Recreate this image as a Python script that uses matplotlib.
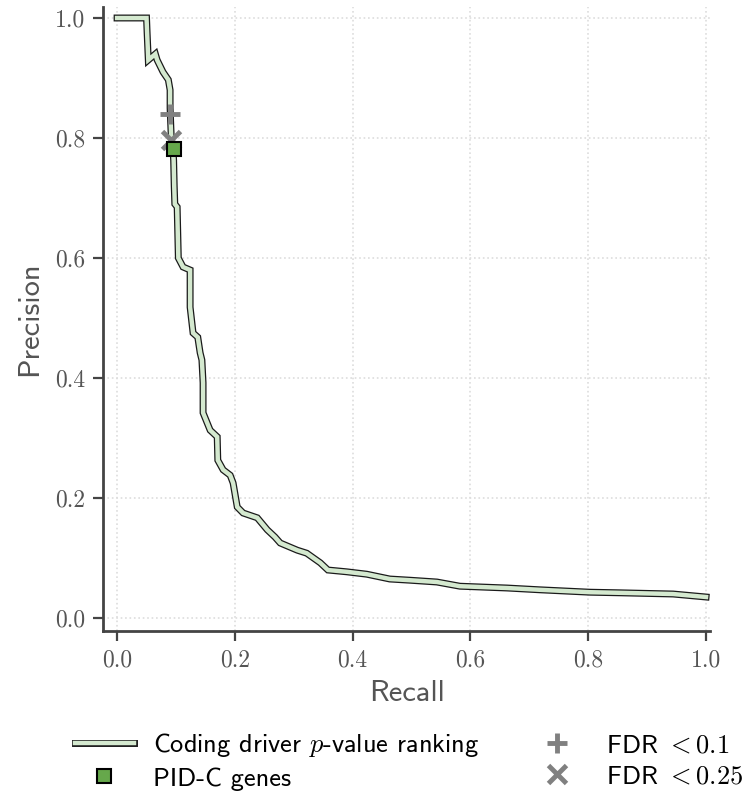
import matplotlib
matplotlib.use("Agg")
import matplotlib.pyplot as plt
import matplotlib.patheffects as pe

plt.rcParams['mathtext.fontset'] = 'cm'
plt.rcParams['axes.formatter.use_mathtext'] = True
plt.rcParams['axes.unicode_minus'] = False

# precision-recall curve of the coding driver ranking
recall = [0.0, 0.050, 0.051, 0.053, 0.065, 0.068, 0.078, 0.087, 0.090, 0.090,
          0.092, 0.095, 0.096, 0.097, 0.098, 0.102, 0.104, 0.112, 0.124, 0.124,
          0.129, 0.137, 0.141, 0.144, 0.146, 0.146, 0.158, 0.170, 0.171, 0.180,
          0.192, 0.197, 0.204, 0.214, 0.238, 0.255, 0.268, 0.277, 0.306, 0.322,
          0.345, 0.358, 0.390, 0.424, 0.463, 0.497, 0.543, 0.582, 0.662, 0.718,
          0.803, 0.854, 0.944, 1.0]
precision = [1.0, 1.0, 0.975, 0.93, 0.94, 0.93, 0.91, 0.897, 0.88, 0.85,
             0.80, 0.78, 0.763, 0.72, 0.69, 0.685, 0.60, 0.585, 0.58, 0.518,
             0.475, 0.468, 0.442, 0.43, 0.392, 0.342, 0.313, 0.302, 0.263, 0.247,
             0.238, 0.225, 0.185, 0.175, 0.167, 0.147, 0.135, 0.125, 0.113, 0.108,
             0.092, 0.080, 0.077, 0.073, 0.065, 0.063, 0.060, 0.053, 0.050, 0.047,
             0.043, 0.042, 0.040, 0.035]

# PID-C genes and FDR thresholds
pidc_point = (0.0968, 0.782)
fdr01_point = (0.0900, 0.840)
fdr025_point = (0.0917, 0.797)

ticks = [0.0, 0.2, 0.4, 0.6, 0.8, 1.0]
gray = '#555555'

fig = plt.figure(figsize=(7.46, 7.99), dpi=100)
ax = fig.add_axes([0.138, 0.210, 0.814, 0.781])

ax.plot(recall, precision, color='#d4e9cf', lw=3.2, solid_joinstyle='miter',
        path_effects=[pe.Stroke(linewidth=5.0, foreground='#1a1a1a'), pe.Normal()],
        label='Coding driver $p$-value ranking', zorder=3)
ax.plot(*pidc_point, ls='none', marker='s', ms=10, mfc='#66a84b', mec='black',
        mew=1.5, label='PID-C genes', zorder=5)
ax.plot(*fdr01_point, ls='none', marker='+', ms=15, mec='#808080', mew=3.5,
        label='FDR $<0.1$', zorder=4)
ax.plot(*fdr025_point, ls='none', marker='x', ms=13, mec='#808080', mew=3.5,
        label='FDR $<0.25$', zorder=4)

ax.set_xlim(-0.024, 1.007)
ax.set_ylim(-0.022, 1.018)
ax.set_xticks(ticks)
ax.set_yticks(ticks)
ax.set_xticklabels([f'{t:.1f}' for t in ticks], family='cmr10', fontsize=17, color=gray)
ax.set_yticklabels([f'{t:.1f}' for t in ticks], family='cmr10', fontsize=17, color=gray)
ax.grid(True, ls=':', color='#dddddd', lw=1.2)
ax.set_axisbelow(True)

for side in ['top', 'right']:
    ax.spines[side].set_visible(False)
for side in ['left', 'bottom']:
    ax.spines[side].set_color('#444444')
    ax.spines[side].set_linewidth(2)
ax.tick_params(length=7, width=1.6, color='#444444', pad=6)

ax.set_xlabel('Recall', family='cmss10', fontsize=22, color=gray, labelpad=6)
ax.set_ylabel('Precision', family='cmss10', fontsize=22, color=gray, labelpad=8)

fig.legend(loc='upper left', bbox_to_anchor=(0.087, 0.098), ncol=2, frameon=False,
           prop={'family': 'cmss10', 'size': 19}, handlelength=2.2,
           handletextpad=0.75, columnspacing=1.85, labelspacing=0.3, borderaxespad=0)

fig.savefig('out.png', dpi=100)
